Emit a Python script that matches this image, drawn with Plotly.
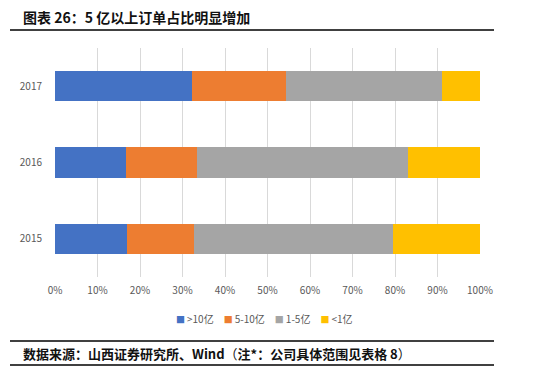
import plotly.graph_objects as go

years = ["2015", "2016", "2017"]
series_names = [">10亿", "5-10亿", "1-5亿", "<1亿"]
gt10 = [16.9, 16.6, 32.2]
s5_10 = [15.8, 16.9, 22.2]
s1_5 = [46.9, 49.6, 36.6]
lt1 = [20.4, 16.9, 9.0]
colors = ["#4472C4", "#ED7D31", "#A5A5A5", "#FFC000"]
tick_vals = [0, 10, 20, 30, 40, 50, 60, 70, 80, 90, 100]
tick_text = [f"{v}%" for v in tick_vals]

# page has an 8px body margin; express layout in page pixels and shift
OFF = 8
W, H = 537 - OFF, 367 - OFF
L, R, T, B = 55 - OFF, 537 - 480, 48 - OFF, 367 - 277
pw = W - L - R
ph = H - T - B

def px_x(x):
    return (x - OFF - L) / pw

def px_y(y):
    return 1 - (y - OFF - T) / ph

fig = go.Figure()
for name, vals, c in zip(series_names, [gt10, s5_10, s1_5, lt1], colors):
    fig.add_trace(go.Bar(y=years, x=vals, name=name, orientation="h",
                         marker=dict(color=c, line=dict(width=0))))

fig.update_layout(
    width=W, height=H, barmode="stack", bargap=0.6,
    margin=dict(l=L, r=R, t=T, b=B),
    paper_bgcolor="white", plot_bgcolor="white",
    font=dict(family="Noto Sans CJK SC, sans-serif", size=10, color="#595959"),
    xaxis=dict(range=[0, 100], tickvals=tick_vals, ticktext=tick_text,
               showgrid=True, gridcolor="#D9D9D9", gridwidth=1, zeroline=False,
               ticks="", ticklabelstandoff=6,
               tickfont=dict(size=10, color="#595959"), fixedrange=True),
    yaxis=dict(type="category", categoryorder="array", categoryarray=years,
               showgrid=False, ticks="", tickfont=dict(size=10, color="#595959"),
               ticklabelstandoff=12),
    showlegend=False,
)

shapes = []
for yy in [5, 30, 341, 365]:
    shapes.append(dict(type="line", xref="paper", yref="paper",
                       x0=px_x(10), x1=px_x(494), y0=px_y(yy), y1=px_y(yy),
                       line=dict(color="black", width=1.3)))
fig.update_layout(shapes=shapes)

legend_text = "\u2002\u2002".join(
    f"<span style='color:{c};font-size:9px'>■</span>\u2009{n}" for n, c in zip(series_names, colors)
)
fig.add_annotation(text=legend_text, xref="paper", yref="paper",
                   x=px_x(264), y=px_y(318), xanchor="center", yanchor="middle",
                   showarrow=False, font=dict(size=10, color="#595959"))

fig.add_annotation(text="<b>图表 26：5 亿以上订单占比明显增加</b>", xref="paper", yref="paper",
                   x=px_x(21), y=px_y(17), xanchor="left", yanchor="middle",
                   showarrow=False, font=dict(size=14, color="#111111"))
fig.add_annotation(text="<b>数据来源：山西证券研究所、Wind</b>（<b>注*：公司具体范围见表格 8</b>）", xref="paper", yref="paper",
                   x=px_x(21), y=px_y(353), xanchor="left", yanchor="middle",
                   showarrow=False, font=dict(size=13, color="#111111"))

fig.write_html("out.html")
